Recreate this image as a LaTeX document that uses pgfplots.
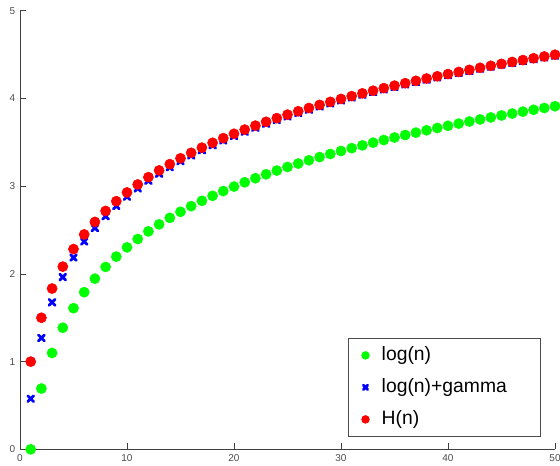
\documentclass[border=0pt]{standalone}
\usepackage{fontspec}
\setmainfont{Liberation Sans}
\usepackage{pgfplots}
\usepackage{pgfplotstable}
\pgfplotsset{compat=1.18}

\pgfplotstableread{
n ln lng H
1 0.0000 0.5772 1.0000
2 0.6931 1.2703 1.5000
3 1.0986 1.6758 1.8333
4 1.3863 1.9635 2.0833
5 1.6094 2.1866 2.2833
6 1.7918 2.3690 2.4500
7 1.9459 2.5231 2.5929
8 2.0794 2.6566 2.7179
9 2.1972 2.7744 2.8290
10 2.3026 2.8798 2.9290
11 2.3979 2.9751 3.0199
12 2.4849 3.0621 3.1032
13 2.5649 3.1421 3.1801
14 2.6391 3.2163 3.2516
15 2.7081 3.2853 3.3182
16 2.7726 3.3498 3.3807
17 2.8332 3.4104 3.4395
18 2.8904 3.4676 3.4951
19 2.9444 3.5216 3.5477
20 2.9957 3.5729 3.5977
21 3.0445 3.6217 3.6454
22 3.0910 3.6682 3.6908
23 3.1355 3.7127 3.7343
24 3.1781 3.7553 3.7760
25 3.2189 3.7961 3.8160
26 3.2581 3.8353 3.8544
27 3.2958 3.8730 3.8915
28 3.3322 3.9094 3.9272
29 3.3673 3.9445 3.9617
30 3.4012 3.9784 3.9950
31 3.4340 4.0112 4.0272
32 3.4657 4.0429 4.0585
33 3.4965 4.0737 4.0888
34 3.5264 4.1036 4.1182
35 3.5553 4.1325 4.1468
36 3.5835 4.1607 4.1746
37 3.6109 4.1881 4.2016
38 3.6376 4.2148 4.2279
39 3.6636 4.2408 4.2535
40 3.6889 4.2661 4.2785
41 3.7136 4.2908 4.3029
42 3.7377 4.3149 4.3267
43 3.7612 4.3384 4.3500
44 3.7842 4.3614 4.3727
45 3.8067 4.3839 4.3949
46 3.8286 4.4058 4.4167
47 3.8501 4.4273 4.4380
48 3.8712 4.4484 4.4588
49 3.8918 4.4690 4.4792
50 3.9120 4.4892 4.4992
}\datatable

\begin{document}
\begin{tikzpicture}
\begin{axis}[
  at={(15pt,12.5pt)}, anchor=south west,
  scale only axis,
  width=401.25pt, height=328.9pt,
  xmin=0, xmax=50, ymin=0, ymax=5,
  axis lines*=left,
  axis line style={black!75, line width=0.6pt},
  tick style={black!75, line width=0.6pt},
  tick align=inside,
  major tick length=4.5pt,
  xtick={0,10,20,30,40,50},
  ytick={0,1,2,3,4,5},
  tick label style={font=\fontsize{7.5}{9}\selectfont, text=black!70},
  /pgf/number format/assume math mode=true,
  clip=false,
  legend style={
    at={(rel axis cs:0.6137,0.2531)}, anchor=north west,
    draw=black!70, line width=0.6pt,
    inner sep=3pt,
    font=\fontsize{14.5}{17}\selectfont,
    row sep=5pt,
    nodes={text height=11pt, text depth=4pt, inner sep=2pt, text width=114pt, align=left},
  },
  legend cell align=left,
  legend image code/.code={
    \path (0cm,0cm) (0.62cm,0cm);
    \draw[#1, mark options={scale=0.75}] plot coordinates {(0.3cm,0cm)};},
]
\addplot[only marks, mark=*, color=green, mark size=3.8pt] table[x=n, y=ln] {\datatable};
\addplot[only marks, mark=x, color=blue, mark size=3.1pt, line width=2.1pt, line cap=round] table[x=n, y=lng] {\datatable};
\addplot[only marks, mark=*, color=red, mark size=3.8pt] table[x=n, y=H] {\datatable};
\legend{log(n), log(n)+gamma, H(n)}
\end{axis}
\pgfresetboundingbox
\path[use as bounding box] (0,0) rectangle (420pt,349.5pt);
\end{tikzpicture}
\end{document}
